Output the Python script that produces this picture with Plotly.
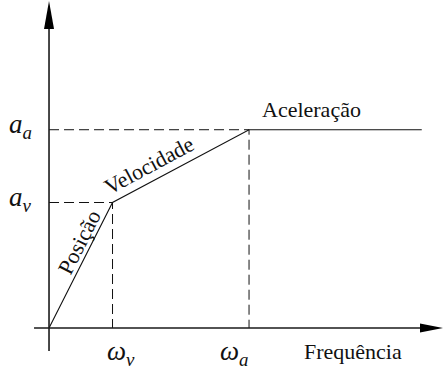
import math
import plotly.graph_objects as go

# Break points of the response curve (frequency, amplitude)
freq = [0.0, 1.0, 3.15, 5.87]
amp = [0.0, 1.0, 1.58, 1.58]

freq_labels = ["ω<sub>v</sub>", "ω<sub>a</sub>"]
amp_labels = ["a<sub>v</sub>", "a<sub>a</sub>"]
region_names = ["Posição", "Velocidade", "Aceleração"]
axis_title = "Frequência"

W, H = 445, 369
X_RANGE = [-0.772, 6.236]
Y_RANGE = [-0.327, 2.614]
SX = W / (X_RANGE[1] - X_RANGE[0])   # pixels per x unit
SY = H / (Y_RANGE[1] - Y_RANGE[0])   # pixels per y unit


def dx(px):
    return px / SX


def dy(px):
    return px / SY


SERIF = "Liberation Serif"
INK = "#111111"

fig = go.Figure()

# guide lines from the corner points to both axes
for f, a in zip(freq[1:3], amp[1:3]):
    fig.add_trace(go.Scatter(
        x=[0, f, f], y=[a, a, 0], mode="lines",
        line=dict(color=INK, width=1, dash="10px,5px"),
        hoverinfo="skip",
    ))

# response curve
fig.add_trace(go.Scatter(
    x=freq, y=amp, mode="lines",
    line=dict(color=INK, width=1.1),
    hoverinfo="skip",
))

# coordinate axes with arrowheads
X_START, X_END = -0.236, 6.205
Y_START, Y_END = -0.183, 2.606
axis_line = dict(color="#1a1a1a", width=1.6)
shapes = [
    dict(type="line", xref="x", yref="y", x0=X_START, y0=0,
         x1=X_END - dx(20), y1=0, line=axis_line),
    dict(type="line", xref="x", yref="y", x0=0, y0=Y_START,
         x1=0, y1=Y_END - dy(24), line=axis_line),
    dict(type="path", xref="x", yref="y",
         path=(f"M {X_END},0 L {X_END - dx(23)},{dy(4.5)} "
               f"L {X_END - dx(23)},{-dy(4.5)} Z"),
         fillcolor="black", line=dict(width=0)),
    dict(type="path", xref="x", yref="y",
         path=(f"M 0,{Y_END} L {dx(5)},{Y_END - dy(28)} "
               f"L {-dx(5)},{Y_END - dy(28)} Z"),
         fillcolor="black", line=dict(width=0)),
]

annotations = []

# tick-like labels on the axes
for lab, f, xs in zip(freq_labels, freq[1:3], [8, -15]):
    annotations.append(dict(
        x=f, y=0, xref="x", yref="y", text=f"<i>{lab}</i>",
        showarrow=False, xanchor="center", yanchor="top",
        xshift=xs, yshift=-6, font=dict(family=SERIF, size=27, color=INK),
    ))
for lab, a in zip(amp_labels, amp[1:3]):
    annotations.append(dict(
        x=0, y=a, xref="x", yref="y", text=f"<i>{lab}</i>",
        showarrow=False, xanchor="right", yanchor="middle",
        xshift=-15, yshift=4, font=dict(family=SERIF, size=27, color=INK),
    ))

# region names written along each segment
placement = [(0.64, 12), (0.32, 16), (0.36, 20)]
for i, (name, (t, off)) in enumerate(zip(region_names, placement)):
    x0, x1 = freq[i], freq[i + 1]
    y0, y1 = amp[i], amp[i + 1]
    ang = math.atan2((y1 - y0) * SY, (x1 - x0) * SX)
    annotations.append(dict(
        x=x0 + t * (x1 - x0), y=y0 + t * (y1 - y0), xref="x", yref="y",
        text=name, showarrow=False, textangle=-math.degrees(ang),
        xanchor="center", yanchor="middle",
        xshift=-math.sin(ang) * off, yshift=math.cos(ang) * off,
        font=dict(family=SERIF, size=22, color=INK),
    ))

annotations.append(dict(
    x=X_END, y=0, xref="x", yref="y", text=axis_title,
    showarrow=False, xanchor="center", yanchor="middle",
    xshift=-90, yshift=-24,
    font=dict(family=SERIF, size=22, color=INK),
))

fig.update_layout(
    width=W, height=H, margin=dict(l=0, r=0, t=0, b=0),
    paper_bgcolor="white", plot_bgcolor="white", showlegend=False,
    xaxis=dict(range=X_RANGE, visible=False, fixedrange=True),
    yaxis=dict(range=Y_RANGE, visible=False, fixedrange=True),
    shapes=shapes, annotations=annotations,
)

fig.write_html("out.html", config=dict(displayModeBar=False))
